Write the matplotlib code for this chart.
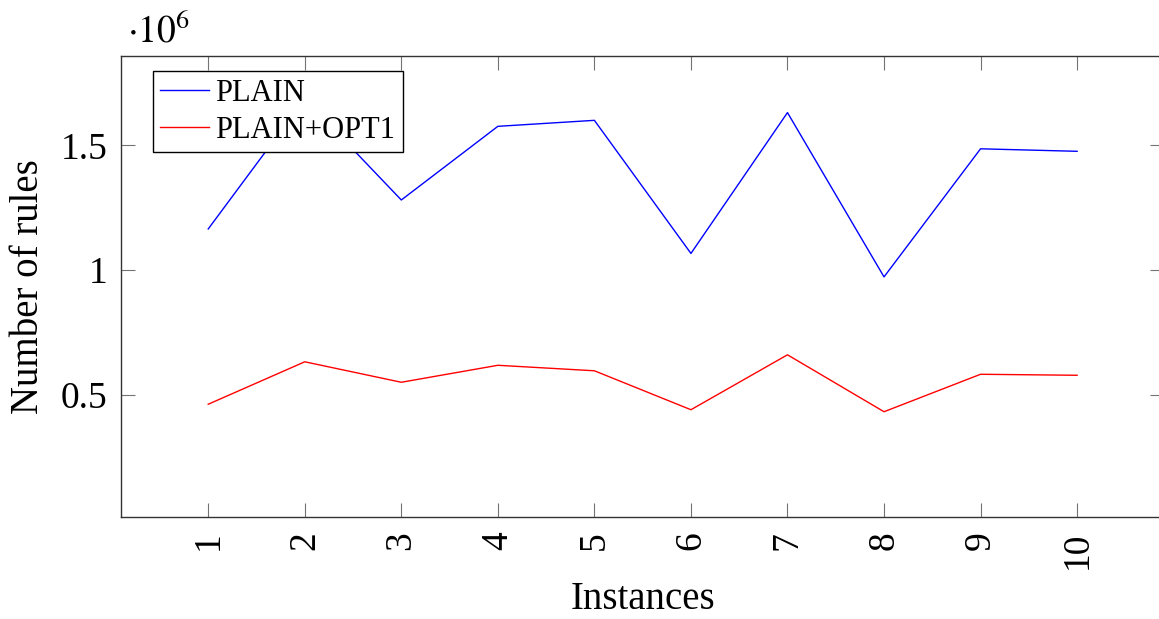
import matplotlib
matplotlib.use("Agg")
import matplotlib.pyplot as plt
from matplotlib.ticker import FuncFormatter

instances = [1, 2, 3, 4, 5, 6, 7, 8, 9, 10]
plain = [1165000, 1686000, 1281000, 1576000, 1600000,
         1067000, 1631000, 973000, 1486000, 1476000]
plain_opt1 = [463000, 633000, 551000, 619000, 597000,
              441000, 661000, 433000, 583000, 579000]
y_ticks = [500000, 1000000, 1500000]

plt.rcParams["font.family"] = ["Liberation Serif", "DejaVu Serif"]
plt.rcParams["mathtext.fontset"] = "stix"

fig = plt.figure(figsize=(11.59, 6.19), dpi=100)
ax = fig.add_axes([0.1047, 0.1643, 0.8996, 0.7452])

ax.plot(instances, plain, color="blue", linewidth=1.0, label="PLAIN")
ax.plot(instances, plain_opt1, color="red", linewidth=1.0, label="PLAIN+OPT1")

ax.set_xlim(0.1, 10.9)
ax.set_ylim(10200, 1857600)
ax.set_xticks(instances)
ax.set_yticks(y_ticks)
ax.yaxis.set_major_formatter(FuncFormatter(lambda v, pos: f"{v / 1e6:g}"))
ax.tick_params(axis="both", direction="in", length=10, width=0.8,
               color="0.45", labelsize=27, top=True, right=True)
ax.tick_params(axis="x", labelrotation=90, pad=10)
ax.tick_params(axis="y", pad=10)
for side in ax.spines.values():
    side.set_linewidth(1.0)
    side.set_color("0.2")

ax.set_xlabel("Instances", fontsize=28, labelpad=9)
ax.set_ylabel("Number of rules", fontsize=28, labelpad=10)

# exponent shown above the y axis, pgfplots style
fig.text(0.110, 0.918, r"$\cdot 10^{6}$", fontsize=27, ha="left", va="bottom")

leg = ax.legend(loc="upper left", bbox_to_anchor=(0.030, 0.967), fontsize=22,
                frameon=True, fancybox=False, edgecolor="black",
                framealpha=1.0, handlelength=1.6, handletextpad=0.2,
                borderpad=0.25, labelspacing=0.25, borderaxespad=0)
leg.get_frame().set_linewidth(1.0)
leg.set_zorder(5)

fig.savefig("out.png", dpi=100)
